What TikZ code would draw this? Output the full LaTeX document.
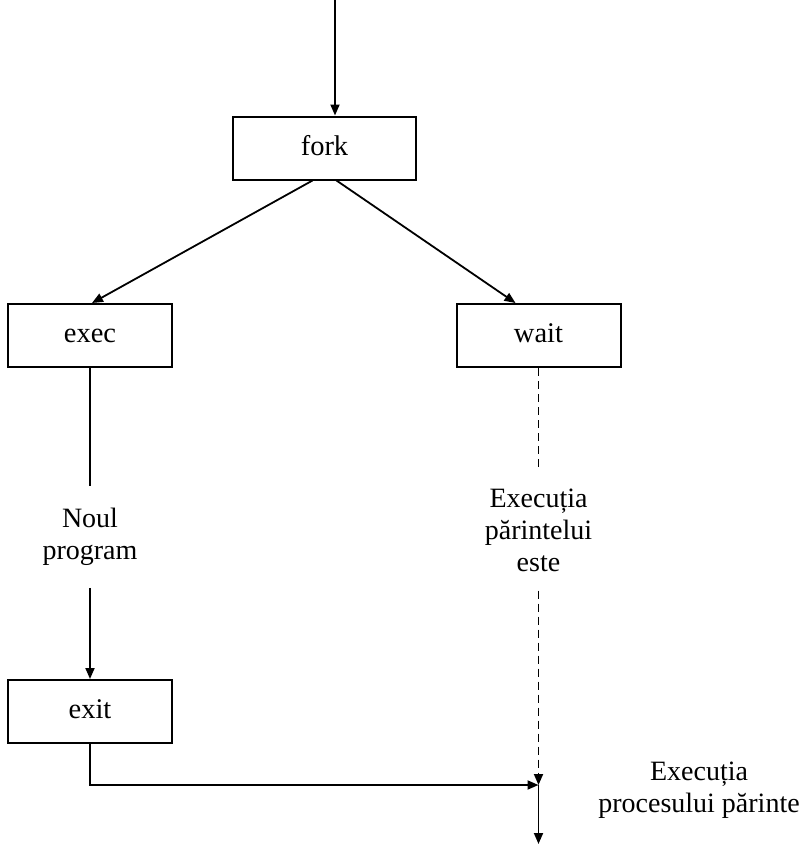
\documentclass[tikz,border=0pt]{standalone}
\usepackage{fontspec}
\setmainfont{Liberation Serif}
\usetikzlibrary{arrows.meta}
\tikzstyle{process} = [rectangle, minimum width=164pt, minimum height=63pt, text height=19pt, text depth=5pt, text centered, draw=black, line width=2pt, font=\fontsize{28.5}{32}\selectfont]
\tikzstyle{note} = [align=center, inner xsep=0pt, font=\fontsize{28}{32}\selectfont]
\tikzstyle{arrow} = [line width=1.8pt,-{Triangle[length=11pt,width=9pt]}]
\tikzstyle{line} = [line width=1.8pt]
\tikzstyle{dashline} = [dash pattern=on 8pt off 5pt]

\begin{document}
\begin{tikzpicture}[x=1pt,y=-1pt]
        \useasboundingbox (0,0) rectangle (802,844);
        \coordinate (start) at (335,0);
        \node (fork) [process, minimum width=183pt] at (324.5,148) {fork};
        \node (exec) [process] at (90,335.5) {exec};
        \node (wait) [process] at (538.5,335.5) {wait};
        \node (noul) [note, inner ysep=22pt] at (90,537) {Noul\\program};
        \node (parexec) [note, inner ysep=19pt] at (538.5,530) {Execuția\\părintelui\\este};
        \node (exit) [process] at (90,711.5) {exit};
        \coordinate (join) at (538.5,785);
        \coordinate (end) at (538.5,844);
        \node (procexec) [note] at (699,790) {Execuția\\procesului părinte};
        \draw [arrow] (start) -- (start |- fork.north);
        \draw [arrow] ([xshift=-12pt]fork.south) -- ([xshift=2pt]exec.north);
        \draw [arrow] ([xshift=12pt]fork.south) -- ([xshift=-23pt]wait.north);
        \draw [line] (exec) -- (noul);
        \draw [arrow] (noul) -- (exit);
        \draw [line, dashline] (wait) -- (parexec);
        \draw [arrow, dashline] (parexec) -- (join);
        \draw [arrow] (exit.south) |- (join);
        \draw [arrow] (join) -- (end);
        \end{tikzpicture}
\end{document}
